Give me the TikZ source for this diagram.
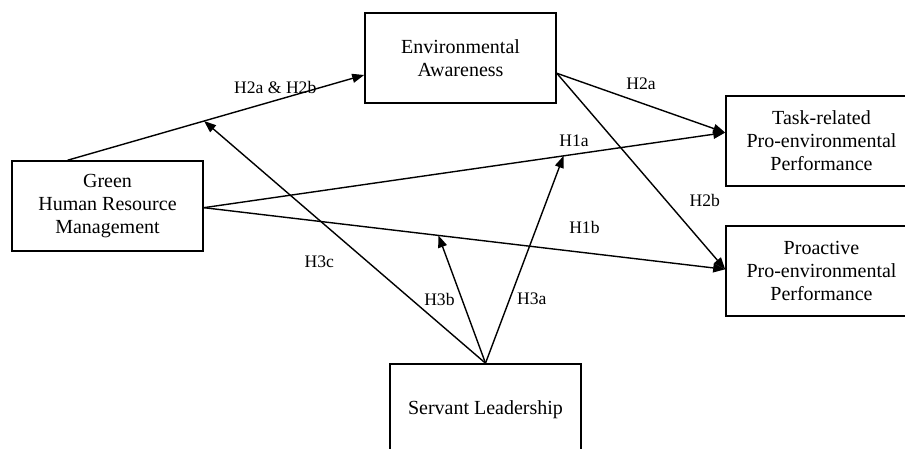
\documentclass[tikz,border=0pt]{standalone}
\usepackage{fontspec}
\setmainfont{Liberation Serif}
\usetikzlibrary{positioning, arrows.meta}

\tikzset{
    box/.style={draw, line width=0.8pt, minimum width=95.5pt, minimum height=45pt, align=center, font=\fontsize{10}{11.5}\selectfont},
    hyp/.style={line width=0.7pt, -{Triangle[length=6pt,width=4.5pt]}},
    lbl/.style={font=\fontsize{8.8}{10}\selectfont}
}

\begin{document}
\begin{tikzpicture}[x=0.5pt, y=-0.5pt]
    \path[use as bounding box, clip] (0,0) rectangle (905,449);
    \node[box](ea) at (460.5,58){Environmental\\Awareness};
    \node[box](ghrm) at (107.5,206){Green\\Human Resource\\Management};
    \node[box](task) at (821.5,141){Task-related\\Pro-environmental\\Performance};
    \node[box](pro) at (821.5,271){Proactive\\Pro-environmental\\Performance};
    \node[box, minimum height=46pt](sl) at (485.5,410){Servant Leadership};
    \draw[hyp] (ghrm.131) -- node[lbl, above, pos=0.7]{H2a \& H2b} coordinate[pos=0.46](m1) (ea.190);
    \draw[hyp] (ghrm.-1) -- node[lbl, above, pos=0.71]{H1a} coordinate[pos=0.69](m2) (task.175);
    \draw[hyp] (ghrm.-1) -- node[lbl, above=6pt, pos=0.73]{H1b} coordinate[pos=0.45](m3) (pro.179);
    \draw[hyp] (ea.-9) -- node[lbl, above=3pt, pos=0.5]{H2a} (task.175);
    \draw[hyp] (ea.-9) -- node[lbl, right=8pt, pos=0.65]{H2b} (pro.179);
    \draw[hyp] (sl.north) -- node[lbl, right, pos=0.31]{H3a} (m2);
    \draw[hyp] (sl.north) -- node[lbl, left, pos=0.5]{H3b} (m3);
    \draw[hyp] (sl.north) -- node[lbl, left=13pt, pos=0.42]{H3c} (m1);
\end{tikzpicture}
\end{document}
